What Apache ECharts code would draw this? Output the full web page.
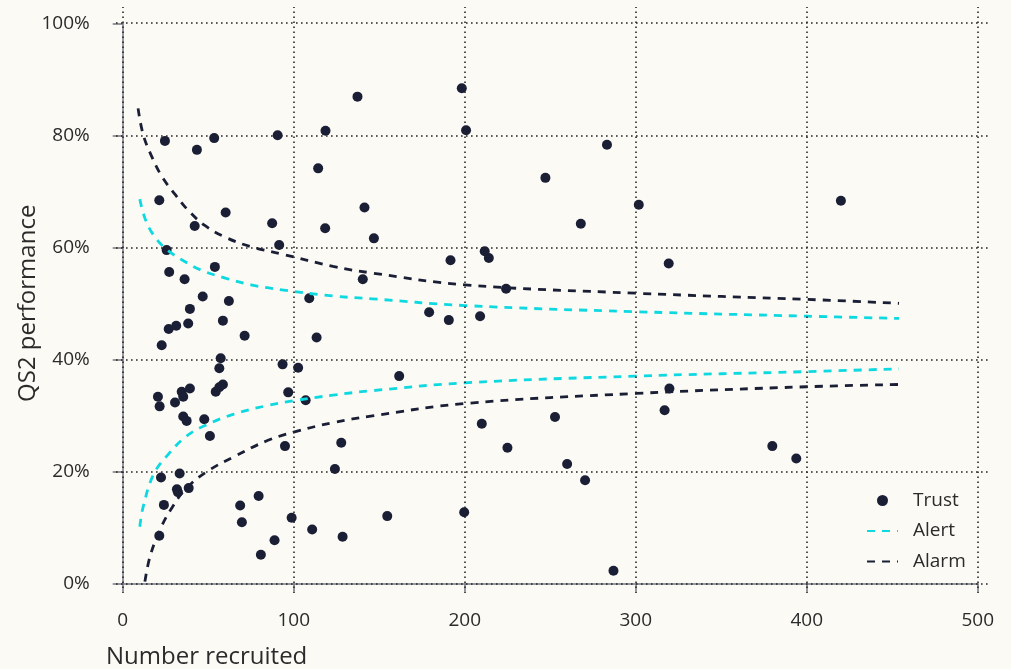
<!DOCTYPE html>
<html>
<head>
<meta charset="utf-8">
<script src="https://cdn.jsdelivr.net/npm/echarts@6/dist/echarts.min.js"></script>
<style>
  html, body { margin: 0; padding: 0; background: #fbfaf5; }
  #chart { width: 1011px; height: 669px; }
</style>
</head>
<body>
<div id="chart"></div>
<script>
// trust points: number recruited / QS2 performance (%)
const trustN = [24.7, 43.4, 53.5, 90.6, 137.3, 118.6, 114.3, 21.4, 60.2, 42.1,
  87.4, 118.4, 141.4, 146.9, 91.5, 25.7, 53.9, 27.2, 36.2, 140.4,
  46.8, 109.1, 62.1, 39.3, 26.9, 31.3, 38.3, 58.6, 71.3, 113.4,
  22.8, 57.3, 56.5, 93.5, 102.6, 39.3, 34.5, 35.4, 20.6, 21.6,
  30.6, 54.4, 56.5, 58.6, 96.8, 107.0, 35.4, 37.4, 47.7, 51.0,
  94.9, 127.8, 124.1, 22.4, 33.3, 31.7, 32.3, 38.6, 24.1, 68.7,
  79.5, 69.7, 98.8, 110.8, 128.6, 21.4, 88.8, 80.8, 198.3, 200.8,
  283.2, 247.2, 301.8, 267.9, 191.7, 211.7, 214.1, 319.3, 224.2, 179.2,
  190.7, 209.0, 161.7, 210.0, 252.8, 225.0, 259.9, 270.4, 154.7, 199.7,
  287.0, 319.7, 316.9, 420.0, 379.9, 393.9];
const trustPct = [79.0, 77.4, 79.5, 80.0, 86.9, 80.8, 74.1, 68.4, 66.2, 63.8,
  64.3, 63.4, 67.1, 61.6, 60.4, 59.5, 56.5, 55.6, 54.3, 54.3,
  51.2, 50.9, 50.4, 49.0, 45.4, 46.0, 46.4, 46.9, 44.2, 43.9,
  42.5, 40.2, 38.4, 39.1, 38.5, 34.8, 34.2, 33.3, 33.3, 31.6,
  32.3, 34.2, 35.0, 35.5, 34.1, 32.7, 29.8, 29.0, 29.3, 26.3,
  24.5, 25.1, 20.4, 18.9, 19.6, 16.8, 16.25, 17.0, 14.0, 13.9,
  15.6, 10.9, 11.7, 9.6, 8.3, 8.5, 7.7, 5.1, 88.4, 80.9,
  78.3, 72.4, 67.6, 64.2, 57.7, 59.3, 58.1, 57.1, 52.6, 48.4,
  47.0, 47.7, 37.0, 28.5, 29.7, 24.2, 21.3, 18.4, 12.0, 12.7,
  2.25, 34.8, 30.9, 68.3, 24.5, 22.3];

// control limits
const alarmUpperN = [9, 12, 17, 23, 31, 38, 48, 60, 75, 93, 123, 146, 200, 300, 400, 454];
const alarmUpperPct = [84.8, 80.1, 76.2, 72.6, 69.3, 66.7, 63.9, 61.8, 60.1, 58.8, 56.6, 55.4, 53.3, 51.8, 50.7, 50.0];
const alertUpperN = [10, 13, 18, 25, 35, 46, 60, 75, 93, 123, 146, 200, 300, 400, 454];
const alertUpperPct = [68.6, 65.2, 62.2, 59.8, 57.7, 55.9, 54.5, 53.3, 52.4, 51.3, 50.8, 49.6, 48.5, 47.7, 47.3];
const alertLowerN = [10, 12, 18, 26, 37, 49, 65, 84, 100, 123, 146, 200, 300, 400, 454];
const alertLowerPct = [10.1, 13.7, 19.4, 22.8, 26.2, 28.3, 30.2, 31.7, 32.6, 33.6, 34.4, 35.8, 37.0, 37.8, 38.3];
const alarmLowerN = [13, 16, 22, 29, 37, 49, 65, 84, 100, 123, 146, 200, 300, 400, 454];
const alarmLowerPct = [0.3, 4.8, 9.7, 13.6, 16.9, 19.9, 22.6, 25.4, 27.0, 28.7, 29.9, 32.1, 33.9, 35.1, 35.5];

const xTicks = [0, 100, 200, 300, 400, 500];
const yTicks = [0, 20, 40, 60, 80, 100];

const DARK = '#1b1f35';
const CYAN = '#0fd9e0';
const FONT = '"Open Sans"';

function pairs(xs, ys) {
  return xs.map((x, i) => [x, ys[i]]);
}

const chart = echarts.init(document.getElementById('chart'), null, {renderer: 'canvas'});

function limitSeries(name, xs, ys, color, width, dash) {
  return {
    name: name, type: 'line', xAxisIndex: 1, yAxisIndex: 1,
    data: pairs(xs, ys),
    symbol: 'none', showSymbol: false, smooth: 0.4,
    lineStyle: {color: color, width: width, type: dash},
    itemStyle: {color: color}
  };
}

const option = {
  backgroundColor: '#fbfaf5',
  animation: false,
  textStyle: {fontFamily: FONT},
  grid: [
    // grid 0: slightly larger box, only for the dotted grid lines
    {left: 116, right: 22, top: 7, bottom: 76, outerBoundsMode: 'none'},
    // grid 1: data box 0..500 x 0..100%
    {left: 122.7, right: 33.3, top: 23.3, bottom: 85.7, outerBoundsMode: 'none'}
  ],
  xAxis: [
    {gridIndex: 0, type: 'value', min: -3.92, max: 506.6, show: false},
    {
      gridIndex: 1, type: 'value', min: 0, max: 500, interval: 100, offset: 16.7,
      axisLine: {show: true, lineStyle: {color: '#747783', width: 1.5}},
      axisTick: {show: true, length: 8, lineStyle: {color: '#747783', width: 1.5}},
      axisLabel: {margin: 11, fontSize: 19, color: '#2b2b2b', fontFamily: FONT},
      splitLine: {show: false},
      name: 'Number recruited',
      nameLocation: 'start',
      nameGap: 16.7,
      nameMoveOverlap: false,
      nameTextStyle: {fontSize: 24, color: '#2b2b2b', align: 'left', verticalAlign: 'top', padding: [62, 0, 0, 0], fontFamily: FONT}
    }
  ],
  yAxis: [
    {gridIndex: 0, type: 'value', min: -1.73, max: 102.9, show: false},
    {
      gridIndex: 1, type: 'value', min: 0, max: 100, interval: 20, offset: 16,
      axisLine: {show: true, lineStyle: {color: '#747783', width: 1.5}},
      axisTick: {show: true, length: 10, lineStyle: {color: '#747783', width: 1.5}},
      axisLabel: {margin: 17, fontSize: 19, color: '#2b2b2b', formatter: '{value}%', fontFamily: FONT},
      splitLine: {show: false},
      name: 'QS2 performance',
      nameLocation: 'middle',
      nameGap: 67,
      nameMoveOverlap: false,
      nameTextStyle: {fontSize: 24, color: '#2b2b2b', fontFamily: FONT}
    }
  ],
  legend: {
    data: [
      {name: 'Trust'},
      {name: 'Alert', itemStyle: {opacity: 0}},
      {name: 'Alarm', itemStyle: {opacity: 0}}
    ],
    orient: 'vertical',
    left: 866,
    top: 490.5,
    padding: 0,
    itemWidth: 31,
    itemHeight: 11,
    itemGap: 10.5,
    textStyle: {fontSize: 19, color: '#2b2b2b', lineHeight: 20, padding: [0, 0, 0, 10], fontFamily: FONT}
  },
  series: [
    {
      name: 'grid',
      type: 'line',
      xAxisIndex: 0, yAxisIndex: 0,
      data: [],
      silent: true,
      z: 0,
      markLine: {
        silent: true,
        symbol: ['none', 'none'],
        label: {show: false},
        lineStyle: {color: '#262626', width: 1.6, type: [1.6, 3.4]},
        data: xTicks.map(v => ({xAxis: v})).concat(yTicks.map(v => ({yAxis: v})))
      }
    },
    limitSeries('Alert', alertUpperN, alertUpperPct, CYAN, 2.8, [8, 7]),
    limitSeries('Alert', alertLowerN, alertLowerPct, CYAN, 2.8, [8, 7]),
    limitSeries('Alarm', alarmUpperN, alarmUpperPct, DARK, 2.8, [8, 7]),
    limitSeries('Alarm', alarmLowerN, alarmLowerPct, DARK, 2.8, [8, 7]),
    {
      name: 'Trust', type: 'scatter', xAxisIndex: 1, yAxisIndex: 1,
      data: pairs(trustN, trustPct),
      symbol: 'circle', symbolSize: 10,
      itemStyle: {color: DARK, opacity: 1}
    }
  ]
};

chart.setOption(option);
</script>
</body>
</html>
